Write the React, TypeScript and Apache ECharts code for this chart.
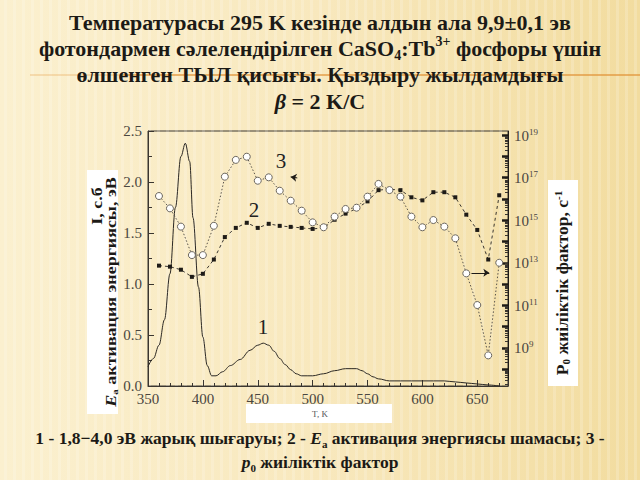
import React, { useEffect, useRef } from "react";
import * as echarts from "echarts";

// ---- data ----
const tlTemps = [350, 355, 360, 365, 370, 375, 380, 384, 388, 391, 396, 400, 404, 408, 412, 418, 425, 434, 443, 450, 455, 460, 465, 470, 475, 480, 485, 490, 500, 510, 520, 530, 540, 545, 550, 555, 560, 570, 580, 600, 620, 630, 640, 650, 660, 670];
const tlIntensity = [0.19, 0.27, 0.40, 0.65, 1.10, 1.75, 2.25, 2.38, 2.20, 1.65, 0.97, 0.48, 0.20, 0.10, 0.10, 0.14, 0.20, 0.26, 0.35, 0.40, 0.42, 0.40, 0.34, 0.27, 0.21, 0.16, 0.12, 0.10, 0.10, 0.12, 0.15, 0.17, 0.17, 0.15, 0.12, 0.09, 0.07, 0.05, 0.05, 0.05, 0.05, 0.04, 0.03, 0.02, 0.01, 0.0];

const pointTemps = [360, 370, 380, 390, 400, 410, 420, 430, 440, 450, 460, 470, 480, 490, 500, 510, 520, 530, 540, 550, 560, 570, 580, 590, 600, 610, 620, 630, 640, 650, 660, 670];
const activationEnergy = [1.18, 1.17, 1.14, 1.07, 1.10, 1.24, 1.46, 1.55, 1.60, 1.55, 1.59, 1.57, 1.56, 1.55, 1.54, 1.55, 1.63, 1.69, 1.74, 1.81, 1.92, 1.93, 1.92, 1.85, 1.82, 1.90, 1.90, 1.85, 1.68, 1.53, 1.24, 1.87];
const log10P0 = [16.14, 15.56, 14.70, 13.36, 13.36, 14.74, 17.05, 17.84, 17.99, 16.86, 17.02, 16.39, 15.92, 15.45, 14.90, 14.67, 15.17, 15.53, 15.59, 16.11, 16.71, 16.42, 16.11, 15.17, 14.67, 15.01, 14.70, 14.15, 12.50, 11.01, 8.64, 13.0];

const rightMajorExponents = [9, 11, 13, 15, 17, 19];

const titleLines = [
  "Температурасы 295 K кезінде алдын ала 9,9±0,1 эв",
  "фотондармен сәлелендірілген CaSO{sb|4}:Tb{sp|3+} фосфоры үшін",
  "өлшенген ТЫЛ қисығы. Қыздыру жылдамдығы",
  "{it|β} = 2 K/C",
];
const captionLines = [
  "1 - 1,8−4,0 эВ жарық шығаруы; 2 - {it|E}{sb|a} активация энергиясы шамасы; 3 -",
  "{it|p}{sb|0} жиіліктік фактор",
];

const SERIF = "'Liberation Serif', 'Times New Roman', serif";
const INK = "#1c1a16";

function makeRich(size: number, lh: number) {
  const sub = Math.round(size * 0.62);
  return {
    sb: { fontFamily: SERIF, fontWeight: "bold", fontSize: sub, lineHeight: lh, verticalAlign: "bottom", color: INK },
    sp: { fontFamily: SERIF, fontWeight: "bold", fontSize: sub, lineHeight: lh, verticalAlign: "top", color: INK },
    it: { fontFamily: SERIF, fontWeight: "bold", fontStyle: "italic", fontSize: size, lineHeight: lh, color: INK },
  };
}

export default function App() {
  const ref = useRef<HTMLDivElement>(null);

  useEffect(() => {
    document.body.style.margin = "0";
    const chart = echarts.init(ref.current!, null, { renderer: "svg" });

    const xMin = 350, xMax = 678;
    const yRightMin = 7.2, yRightMax = 19.2;

    const rightMinor: number[] = [];
    for (let e = 7; e <= 19; e++) {
      for (let k = 2; k <= 9; k++) {
        const v = e + Math.log10(k);
        if (v > yRightMin && v < yRightMax) rightMinor.push(v);
      }
    }
    const rightMajor: number[] = [];
    for (let e = 8; e <= 19; e++) rightMajor.push(e);

    const textEl = (text: string, x: number, y: number, size: number, lh: number, extra: any = {}) => ({
      type: "text",
      x,
      y,
      z: 100,
      ...extra,
      style: {
        text,
        fill: INK,
        fontFamily: SERIF,
        fontWeight: "bold",
        fontSize: size,
        lineHeight: lh,
        align: "center",
        verticalAlign: "middle",
        rich: makeRich(size, lh),
      },
    });

    // faint vertical stripes of the slide texture
    const stripes: any[] = [];
    for (let sx = 4; sx < 640; sx += 9) {
      stripes.push({
        type: "rect",
        z: 0,
        silent: true,
        shape: { x: sx, y: 0, width: 3, height: 480 },
        style: { fill: "rgba(255,255,255,0.18)" },
      });
    }

    const graphics: any[] = [
      ...stripes,
      // orange rule line behind title
      { type: "line", z: 1, shape: { x1: 30, y1: 75, x2: 120, y2: 75 }, style: { stroke: "rgba(225,150,60,0.35)", lineWidth: 1.5 } },
      { type: "line", z: 1, shape: { x1: 120, y1: 75, x2: 640, y2: 75 }, style: { stroke: "rgba(225,150,60,0.9)", lineWidth: 1.5 } },
      textEl(titleLines[0], 320, 22, 22, 28),
      textEl(titleLines[1], 320, 48, 22, 28),
      textEl(titleLines[2], 320, 74, 22, 28),
      textEl(titleLines[3], 320, 101, 22, 28),
      textEl(captionLines[0], 320, 438, 17.5, 22),
      textEl(captionLines[1], 320, 462, 17.5, 22),
      // white label boxes
      { type: "rect", z: 10, shape: { x: 87, y: 170, width: 31, height: 244 }, style: { fill: "#ffffff" } },
      { type: "rect", z: 10, shape: { x: 548, y: 180, width: 30, height: 206 }, style: { fill: "#ffffff" } },
      { type: "rect", z: 10, shape: { x: 246, y: 404, width: 146, height: 19 }, style: { fill: "#ffffff" } },
      textEl("I, с.б", 97, 206, 18, 20, { rotation: Math.PI / 2, scaleY: 0.8 }),
      textEl("{it|E}{sb|a} активация энергиясы, эВ", 111, 292, 18, 20, { rotation: Math.PI / 2, scaleY: 0.8 }),
      textEl("P{sb|0} жиіліктік фактор, с{sp|-1}", 563, 283, 17.5, 20, { rotation: Math.PI / 2, scaleY: 0.9 }),
      {
        type: "text",
        x: 320,
        y: 414,
        z: 100,
        style: { text: "T, K", fill: "#555", fontFamily: SERIF, fontSize: 9, align: "center", verticalAlign: "middle" },
      },
      { type: "text", x: 263, y: 327, z: 100, style: { text: "1", fill: "#222", fontFamily: SERIF, fontSize: 21, align: "center", verticalAlign: "middle" } },
      { type: "text", x: 254, y: 210, z: 100, style: { text: "2", fill: "#222", fontFamily: SERIF, fontSize: 21, align: "center", verticalAlign: "middle" } },
      { type: "text", x: 281, y: 161, z: 100, style: { text: "3", fill: "#222", fontFamily: SERIF, fontSize: 21, align: "center", verticalAlign: "middle" } },
    ];

    const axisFont = { fontFamily: SERIF, fontSize: 15, color: "#4a4640" };

    chart.setOption({
      animation: false,
      backgroundColor: new echarts.graphic.LinearGradient(0, 0, 1, 0, [
        { offset: 0, color: "#fbf0cf" },
        { offset: 0.5, color: "#f8e8bd" },
        { offset: 1, color: "#f2dc9f" },
      ]),
      grid: {
        left: 148,
        right: 132,
        top: 131,
        bottom: 94,
        show: true,
        borderColor: "#3a3630",
        borderWidth: 1,
        backgroundColor: "transparent",
        outerBoundsMode: "none",
      },
      xAxis: {
        type: "value",
        min: xMin,
        max: xMax,
        interval: 50,
        axisLine: { show: true, onZero: false, lineStyle: { color: "#3a3630", width: 1 } },
        axisTick: { show: true, inside: true, length: 6, lineStyle: { color: "#3a3630" } },
        minorTick: { show: true, splitNumber: 5, length: 3, lineStyle: { color: "#3a3630" } },
        splitLine: { show: false },
        axisLabel: { ...axisFont, margin: 5, showMaxLabel: false },
      },
      yAxis: [
        {
          type: "value",
          min: 0,
          max: 2.5,
          interval: 0.5,
          position: "left",
          axisLine: { show: true, lineStyle: { color: "#3a3630", width: 1 } },
          axisTick: { show: true, inside: true, length: 6, lineStyle: { color: "#3a3630" } },
          minorTick: { show: true, splitNumber: 2, length: 4, lineStyle: { color: "#3a3630" } },
          splitLine: { show: false },
          axisLabel: { ...axisFont, margin: 6, formatter: (v: number) => v.toFixed(1) },
        },
        {
          type: "value",
          min: yRightMin,
          max: yRightMax,
          position: "right",
          axisLine: { show: true, lineStyle: { color: "#1e1b17", width: 1 } },
          axisTick: {
            show: true,
            inside: true,
            length: 6,
            customValues: rightMajor,
            lineStyle: { color: "#1e1b17", width: 2.5 },
          },
          splitLine: { show: false },
          axisLabel: {
            margin: 6,
            customValues: rightMajorExponents,
            formatter: (v: number) => "{b|10}{s|" + Math.round(v) + "}",
            rich: {
              b: { fontFamily: SERIF, fontSize: 15, color: "#4a4640", lineHeight: 16, verticalAlign: "bottom" },
              s: { fontFamily: SERIF, fontSize: 9, color: "#4a4640", lineHeight: 16, verticalAlign: "top" },
            },
          },
        },
        {
          type: "value",
          min: yRightMin,
          max: yRightMax,
          position: "right",
          axisLine: { show: false },
          axisTick: {
            show: true,
            inside: true,
            length: 3,
            customValues: rightMinor,
            lineStyle: { color: "#3a3630", width: 1 },
          },
          splitLine: { show: false },
          axisLabel: { show: false },
        },
      ],
      graphic: graphics,
      series: [
        {
          name: "1",
          type: "line",
          yAxisIndex: 0,
          data: tlTemps.map((t, i) => [t, tlIntensity[i]]),
          showSymbol: false,
          smooth: 0.35,
          smoothMonotone: "x",
          lineStyle: { color: "#2b2824", width: 1 },
          z: 3,
        },
        {
          name: "2",
          type: "line",
          yAxisIndex: 0,
          data: pointTemps.map((t, i) => [t, activationEnergy[i]]),
          symbol: "rect",
          symbolSize: 4,
          itemStyle: { color: "#1e1b17" },
          lineStyle: { color: "#3a3630", width: 1, type: [3, 3] },
          z: 4,
          markLine: {
            silent: true,
            symbolSize: 6,
            label: { show: false },
            lineStyle: { color: "#1e1b17", width: 1, type: "solid" },
            data: [
              [
                { coord: [644.7, 1.11], symbol: "none" },
                { coord: [661, 1.11], symbol: "arrow" },
              ],
              [
                { coord: [486, 2.04], symbol: "none" },
                { coord: [480, 2.05], symbol: "arrow" },
              ],
            ],
          },
        },
        {
          name: "3",
          type: "line",
          yAxisIndex: 1,
          data: pointTemps.map((t, i) => [t, log10P0[i]]),
          symbol: "circle",
          symbolSize: 7,
          itemStyle: { color: "#ffffff", borderColor: "#6b665e", borderWidth: 1 },
          lineStyle: { color: "#5a554d", width: 1, type: [1.5, 2] },
          z: 5,
        },
      ],
    });

    return () => chart.dispose();
  }, []);

  return (
    <div
      ref={ref}
      style={{ position: "absolute", left: 0, top: 0, width: 640, height: 480 }}
    />
  );
}
